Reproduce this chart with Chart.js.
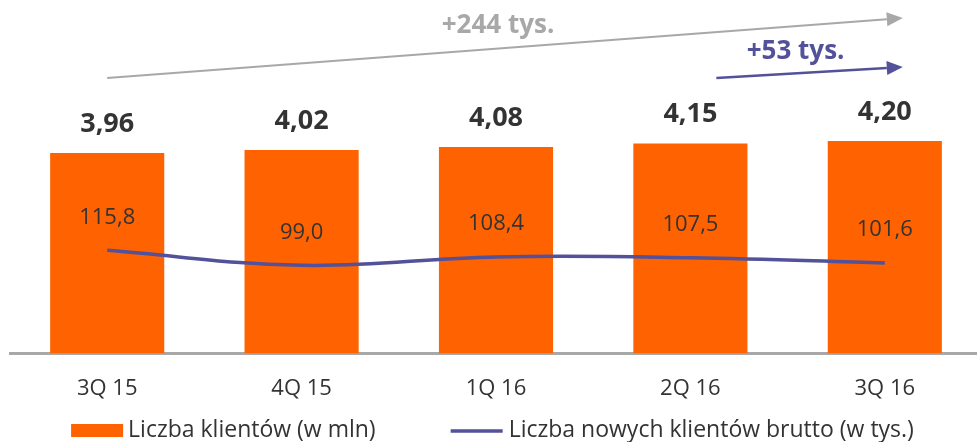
<!DOCTYPE html>
<html>
<head>
<meta charset="utf-8">
<script src="https://cdn.jsdelivr.net/npm/chart.js@4.4.0/dist/chart.umd.min.js"></script>
<style>
  html, body { margin: 0; padding: 0; background: #ffffff; overflow: hidden; }
  #wrap { width: 982px; height: 442px; }
</style>
</head>
<body>
<div id="wrap"><canvas id="klienciChart"></canvas></div>
<script>
// Dane z wykresu
const kwartaly = ['3Q 15', '4Q 15', '1Q 16', '2Q 16', '3Q 16'];
const liczbaKlientow = [3.96, 4.02, 4.08, 4.15, 4.20];   // w mln
const nowiKlienci = [115.8, 99.0, 108.4, 107.5, 101.6];  // w tys.
const strzalkaOgolem = '+244 tys.';
const strzalkaKwartal = '+53 tys.';

const POMARANCZ = '#FF6200';
const FIOLET = '#525199';
const SZARY = '#A8A8A8';
const TEKST = '#333333';
const FONT = '"Open Sans", sans-serif';
const SZEROKOSC_OKNA = 977;

function przecinek(v, d) {
    return v.toFixed(d).replace('.', ',');
}

// Etykiety wartości nad słupkami i nad linią
const etykietyPlugin = {
    id: 'etykiety',
    afterDatasetsDraw(chart) {
        const ctx = chart.ctx;
        ctx.save();
        ctx.textAlign = 'center';
        ctx.textBaseline = 'middle';

        const slupki = chart.getDatasetMeta(0);
        ctx.fillStyle = TEKST;
        ctx.font = 'bold 27px ' + FONT;
        slupki.data.forEach((el, i) => {
            ctx.fillText(przecinek(liczbaKlientow[i], 2), el.x, el.y - 29);
        });

        const linia = chart.getDatasetMeta(1);
        ctx.font = '22px ' + FONT;
        linia.data.forEach((el, i) => {
            ctx.fillText(przecinek(nowiKlienci[i], 1), el.x, el.y - 33);
        });
        ctx.restore();
    }
};

// Strzałki z przyrostem klientów
function rysujStrzalke(ctx, x1, y1, x2, y2, kolor, grubosc) {
    const kat = Math.atan2(y2 - y1, x2 - x1);
    const dl = 16, pol = 7;
    const bx = x2 - dl * Math.cos(kat), by = y2 - dl * Math.sin(kat);
    ctx.strokeStyle = kolor;
    ctx.lineWidth = grubosc;
    ctx.beginPath();
    ctx.moveTo(x1, y1);
    ctx.lineTo(bx, by);
    ctx.stroke();
    ctx.fillStyle = kolor;
    ctx.beginPath();
    ctx.moveTo(x2, y2);
    ctx.lineTo(bx + pol * Math.sin(kat), by - pol * Math.cos(kat));
    ctx.lineTo(bx - pol * Math.sin(kat), by + pol * Math.cos(kat));
    ctx.closePath();
    ctx.fill();
}

const strzalkiPlugin = {
    id: 'strzalki',
    afterDraw(chart) {
        const ctx = chart.ctx;
        const x = chart.scales.x;
        const xStart = x.getPixelForValue(0);
        const xKoniec = x.getPixelForValue(4) + 18;
        const xSrodek = x.getPixelForValue(3) + 26;
        ctx.save();
        rysujStrzalke(ctx, xStart, 78, xKoniec, 18, SZARY, 2);
        rysujStrzalke(ctx, xSrodek, 78, xKoniec, 67, FIOLET, 2.5);

        ctx.textAlign = 'center';
        ctx.textBaseline = 'middle';
        ctx.font = 'bold 26px ' + FONT;
        ctx.fillStyle = SZARY;
        ctx.fillText(strzalkaOgolem, x.getPixelForValue(2) + 2, 26);
        ctx.fillStyle = FIOLET;
        ctx.fillText(strzalkaKwartal, (x.getPixelForValue(3) + x.getPixelForValue(4)) / 2 + 8, 52);
        ctx.restore();
    }
};

// Legenda rysowana ręcznie pod osią
const legendaPlugin = {
    id: 'legenda',
    afterDraw(chart) {
        const ctx = chart.ctx;
        const ds = chart.data.datasets;
        const y = 430;
        ctx.save();
        ctx.font = '23px ' + FONT;
        ctx.textBaseline = 'middle';
        ctx.textAlign = 'left';
        const w1 = ctx.measureText(ds[0].label).width;
        const w2 = ctx.measureText(ds[1].label).width;
        const calosc = 52 + 5 + w1 + 75 + 52 + 6 + w2;
        let xx = (SZEROKOSC_OKNA - calosc) / 2 + 4;

        ctx.fillStyle = ds[0].backgroundColor;
        ctx.fillRect(xx, y - 6, 52, 13);
        ctx.fillStyle = TEKST;
        ctx.fillText(ds[0].label, xx + 57, y);
        xx += 57 + w1 + 75;

        ctx.strokeStyle = ds[1].borderColor;
        ctx.lineWidth = 3.5;
        ctx.beginPath();
        ctx.moveTo(xx, y + 1);
        ctx.lineTo(xx + 52, y + 1);
        ctx.stroke();
        ctx.fillStyle = TEKST;
        ctx.fillText(ds[1].label, xx + 58, y);
        ctx.restore();
    }
};

const ctx = document.getElementById('klienciChart').getContext('2d');
new Chart(ctx, {
    type: 'bar',
    data: {
        labels: kwartaly,
        datasets: [{
            type: 'bar',
            label: 'Liczba klientów (w mln)',
            data: liczbaKlientow,
            backgroundColor: POMARANCZ,
            yAxisID: 'y',
            categoryPercentage: 1,
            barPercentage: 0.587,
            order: 1
        }, {
            type: 'line',
            label: 'Liczba nowych klientów brutto (w tys.)',
            data: nowiKlienci,
            borderColor: FIOLET,
            backgroundColor: FIOLET,
            borderWidth: 3.5,
            tension: 0.4,
            pointRadius: 0,
            fill: false,
            yAxisID: 'y2',
            order: 0
        }]
    },
    options: {
        responsive: true,
        maintainAspectRatio: false,
        animation: false,
        layout: {
            padding: { top: 70, bottom: 26, left: 10, right: 0 }
        },
        plugins: {
            legend: { display: false },
            tooltip: { enabled: false }
        },
        scales: {
            x: {
                grid: { display: false },
                border: { display: true, color: SZARY, width: 3 },
                ticks: {
                    color: TEKST,
                    padding: 14,
                    font: { family: FONT, size: 22 }
                }
            },
            y: {
                display: false,
                min: 0,
                max: 5.6
            },
            y2: {
                display: false,
                min: 0,
                max: 318
            }
        }
    },
    plugins: [etykietyPlugin, strzalkiPlugin, legendaPlugin]
});
</script>
</body>
</html>
